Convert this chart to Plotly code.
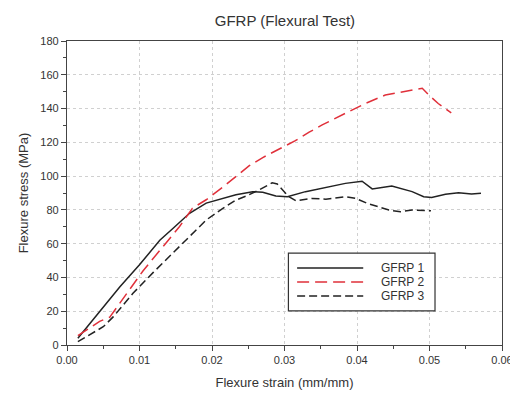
import plotly.graph_objects as go

# ---- data ----
strain1 = [0.0015, 0.0045, 0.0073, 0.0100, 0.0128, 0.0146, 0.0169, 0.0192, 0.0215, 0.0233,
           0.0256, 0.0270, 0.0288, 0.0304, 0.0329, 0.0357, 0.0384, 0.0407, 0.0414, 0.0421,
           0.0448, 0.0476, 0.0492, 0.0503, 0.0522, 0.0540, 0.0558, 0.0571]
stress1 = [4, 20, 34.5, 47.5, 62, 69, 78, 84, 87, 89,
           90.8, 90.4, 88.2, 87.8, 90.8, 93.4, 95.7, 97, 94.7, 92.4,
           94.1, 90.8, 87.8, 87.4, 89.2, 90.2, 89.4, 89.8]

strain2 = [0.0015, 0.0045, 0.0059, 0.0082, 0.0105, 0.0128, 0.0155, 0.0173, 0.0192, 0.0215,
           0.0233, 0.0251, 0.0270, 0.0297, 0.0315, 0.0334, 0.0352, 0.0384, 0.0412, 0.0439,
           0.0467, 0.0490, 0.0499, 0.0512, 0.0530]
stress2 = [5.5, 14, 16.5, 30.6, 44, 56, 70, 81, 86, 93.5,
           100, 106, 111, 117, 121, 126, 130.3, 137.2, 143.1, 148,
           150.4, 152, 148, 143, 137.5]

strain3 = [0.0015, 0.0050, 0.0064, 0.0091, 0.0119, 0.0146, 0.0169, 0.0192, 0.0215, 0.0233,
           0.0247, 0.0265, 0.0283, 0.0290, 0.0306, 0.0316, 0.0338, 0.0357, 0.0384, 0.0398,
           0.0414, 0.0421, 0.0444, 0.0460, 0.0476, 0.0502]
stress3 = [2, 10.8, 16.8, 30.6, 43, 54.3, 64.1, 74, 80.9, 85.8,
           88.2, 91.8, 96, 95.3, 87.8, 85.4, 86.8, 86.3, 87.8, 86.8,
           83.9, 82.9, 79.9, 78.9, 79.9, 79.5]

series_names = ["GFRP 1", "GFRP 2", "GFRP 3"]
x_ticks = [0.00, 0.01, 0.02, 0.03, 0.04, 0.05, 0.06]
x_ticklabels = ["0.00", "0.01", "0.02", "0.03", "0.04", "0.05", "0.06"]
y_ticks = [0, 20, 40, 60, 80, 100, 120, 140, 160, 180]

colors = ["#222222", "#e0303a", "#222222"]
dashes = ["solid", "12px,6px", "8px,4px"]

FONT = "Liberation Sans, Arial, sans-serif"

fig = go.Figure()
for xs, ys, name, c, d in zip([strain1, strain2, strain3], [stress1, stress2, stress3],
                              series_names, colors, dashes):
    fig.add_trace(go.Scatter(x=xs, y=ys, mode="lines", name=name, showlegend=False,
                             line=dict(color=c, width=1.5, dash=d)))

# manual legend (box, sample lines, labels)
fig.add_shape(type="rect", xref="paper", yref="paper", x0=0.509, x1=0.846, y0=0.112, y1=0.302,
              line=dict(color="#333333", width=1.2), fillcolor="white", layer="above")
row_y = [0.253, 0.207, 0.161]
for name, c, d, yy in zip(series_names, colors, dashes, row_y):
    fig.add_shape(type="line", xref="paper", yref="paper", x0=0.529, x1=0.681, y0=yy, y1=yy,
                  line=dict(color=c, width=1.5, dash=d), layer="above")
    fig.add_annotation(xref="paper", yref="paper", x=0.718, y=yy, text=name, showarrow=False,
                       xanchor="left", yanchor="middle", font=dict(family=FONT, size=12, color="#333333"))

# page body has an 8px margin, so the figure is sized to fit inside the window
fig.update_layout(
    width=510, height=391,
    margin=dict(l=59, r=16, t=33, b=54, autoexpand=False),
    paper_bgcolor="white", plot_bgcolor="white",
    font=dict(family=FONT, color="#333333"),
    title=dict(text="GFRP (Flexural Test)", x=0.543, xanchor="center", y=0.968, yanchor="middle",
               font=dict(family=FONT, size=15, color="#333333")),
)
fig.update_xaxes(
    range=[0, 0.06], tickvals=x_ticks, ticktext=x_ticklabels, automargin=False,
    showline=True, linecolor="#444444", linewidth=1.3, mirror=True,
    ticks="outside", ticklen=5, tickcolor="#444444",
    minor=dict(dtick=0.005, ticks="outside", ticklen=3, tickcolor="#444444", showgrid=False),
    showgrid=True, gridcolor="#d0d0d0", griddash="dot", gridwidth=1,
    zeroline=False, tickfont=dict(size=11),
    title=dict(text="Flexure strain (mm/mm)", font=dict(size=13), standoff=12),
)
fig.update_yaxes(
    range=[0, 180], tickvals=y_ticks, automargin=False,
    showline=True, linecolor="#444444", linewidth=1.3, mirror=True,
    ticks="outside", ticklen=5, tickcolor="#444444",
    minor=dict(dtick=10, ticks="outside", ticklen=3, tickcolor="#444444", showgrid=False),
    showgrid=True, gridcolor="#d0d0d0", griddash="dot", gridwidth=1,
    zeroline=False, tickfont=dict(size=11),
    title=dict(text="Flexure stress (MPa)", font=dict(size=13), standoff=8),
)

fig.write_html("out.html")
